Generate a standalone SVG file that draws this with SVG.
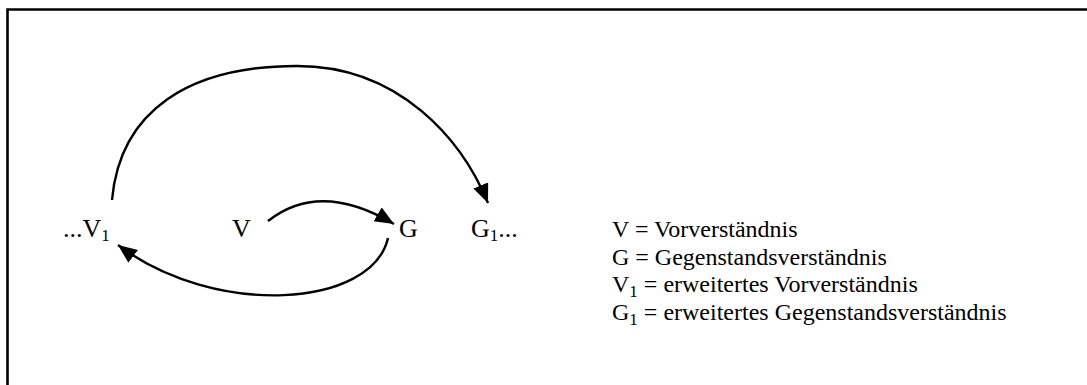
<svg xmlns="http://www.w3.org/2000/svg" width="1087" height="385" viewBox="0 0 1087 385">
<style>
.lbl{font-family:"Liberation Serif","Times New Roman",serif;font-size:26px;fill:#000}
.leg{font-family:"Liberation Serif","Times New Roman",serif;font-size:24px;fill:#000}
.sub{font-size:17px}
.edge{fill:none;stroke:#000;stroke-width:2.4}
</style>
<defs>
<marker id="ah" markerUnits="userSpaceOnUse" markerWidth="22" markerHeight="18" refX="19" refY="8" orient="auto">
<path d="M0,0 L19,8 L0,16 Z" fill="#000"/>
</marker>
</defs>
<rect width="1087" height="385" fill="#fff"/>
<path d="M7.5,390 V9.5 H1092" fill="none" stroke="#000" stroke-width="2.6"/>
<g id="connectors">
<path class="edge" d="M112,200 C120,110 190,66 297,66 C400,66 462,140 488,203" marker-end="url(#ah)"/>
<path class="edge" d="M268,221 Q320,180 394,224" marker-end="url(#ah)"/>
<path class="edge" d="M388,238 C372,308 215,318 118,245" marker-end="url(#ah)"/>
</g>
<g id="node-V1"><text class="lbl" x="63" y="237">...V<tspan class="sub" dy="4">1</tspan></text></g>
<g id="node-V"><text class="lbl" x="232" y="237">V</text></g>
<g id="node-G"><text class="lbl" x="399" y="237">G</text></g>
<g id="node-G1"><text class="lbl" x="471" y="237">G<tspan class="sub" dy="4">1</tspan><tspan dy="-4">...</tspan></text></g>
<g id="legend">
<text class="leg" x="612" y="237">V = Vorverständnis</text>
<text class="leg" x="612" y="264.5">G = Gegenstandsverständnis</text>
<text class="leg" x="612" y="292">V<tspan class="sub" dy="5">1</tspan><tspan dy="-5"> = erweitertes Vorverständnis</tspan></text>
<text class="leg" x="612" y="319.5">G<tspan class="sub" dy="5">1</tspan><tspan dy="-5"> = erweitertes Gegenstandsverständnis</tspan></text>
</g>
</svg>
